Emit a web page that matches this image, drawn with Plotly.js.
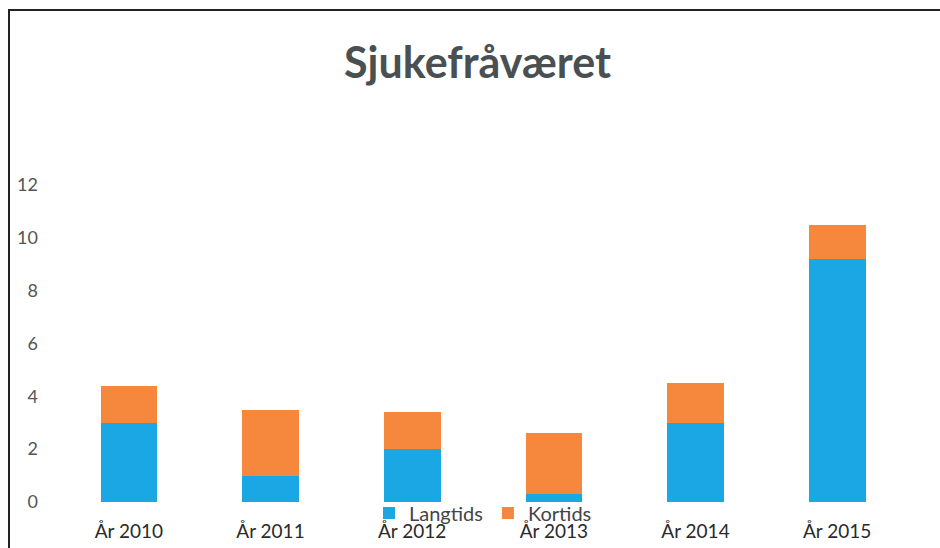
<!DOCTYPE html>
<html>
<head>
<meta charset="utf-8">
<script src="https://cdn.plot.ly/plotly-3.0.1.min.js"></script>
<style>
  html, body { margin: 0; padding: 0; background: #fff; }
  #frame { position: absolute; left: 8px; top: 9px; width: 932px; height: 539px;
           border-left: 2px solid #222; border-top: 2px solid #222; pointer-events: none; z-index: 5; }
  #chart { width: 940px; height: 548px; }
</style>
</head>
<body>
<div id="frame"></div>
<div id="chart"></div>
<script>
var categories = ["År 2010", "År 2011", "År 2012", "År 2013", "År 2014", "År 2015"];
var langtids = [3.0, 1.0, 2.0, 0.3, 3.0, 9.2];
var kortids = [1.4, 2.5, 1.4, 2.3, 1.5, 1.3];
var yTicks = [0, 2, 4, 6, 8, 10, 12];

var font = "Lato, 'Open Sans', sans-serif";

var traces = [
  { type: "bar", name: "Langtids", x: categories, y: langtids,
    marker: { color: "#1ba6e4" } },
  { type: "bar", name: "Kortids", x: categories, y: kortids,
    marker: { color: "#f5883d" } }
];

var layout = {
  width: 940, height: 548,
  barmode: "stack",
  bargap: 0.6,
  margin: { l: 58, r: 32, t: 185, b: 46 },
  paper_bgcolor: "#fff", plot_bgcolor: "#fff",
  font: { family: font, color: "#333" },
  title: { text: "Sjukefråværet", font: { family: font, size: 43, weight: "bold", color: "#4a5052" },
           x: 0.508, xanchor: "center", y: 0.885, yanchor: "middle" },
  xaxis: { showgrid: false, showline: false, zeroline: false, ticks: "",
           tickfont: { family: font, size: 19, color: "#2a2a2a" }, ticklabelstandoff: 16 },
  yaxis: { range: [0, 12], tickvals: yTicks, ticktext: yTicks.map(String),
           showgrid: false, zeroline: false, showline: false, ticks: "",
           tickfont: { family: font, size: 18, color: "#555" }, ticklabelstandoff: 19 },
  showlegend: true,
  legend: { orientation: "h", x: 0.5, xanchor: "center", y: -0.035, yanchor: "middle",
            font: { family: font, size: 20, color: "#444" }, bgcolor: "rgba(0,0,0,0)",
            traceorder: "normal", itemwidth: 30 }
};

Plotly.newPlot("chart", traces, layout, { displayModeBar: false, staticPlot: true });
</script>
</body>
</html>
